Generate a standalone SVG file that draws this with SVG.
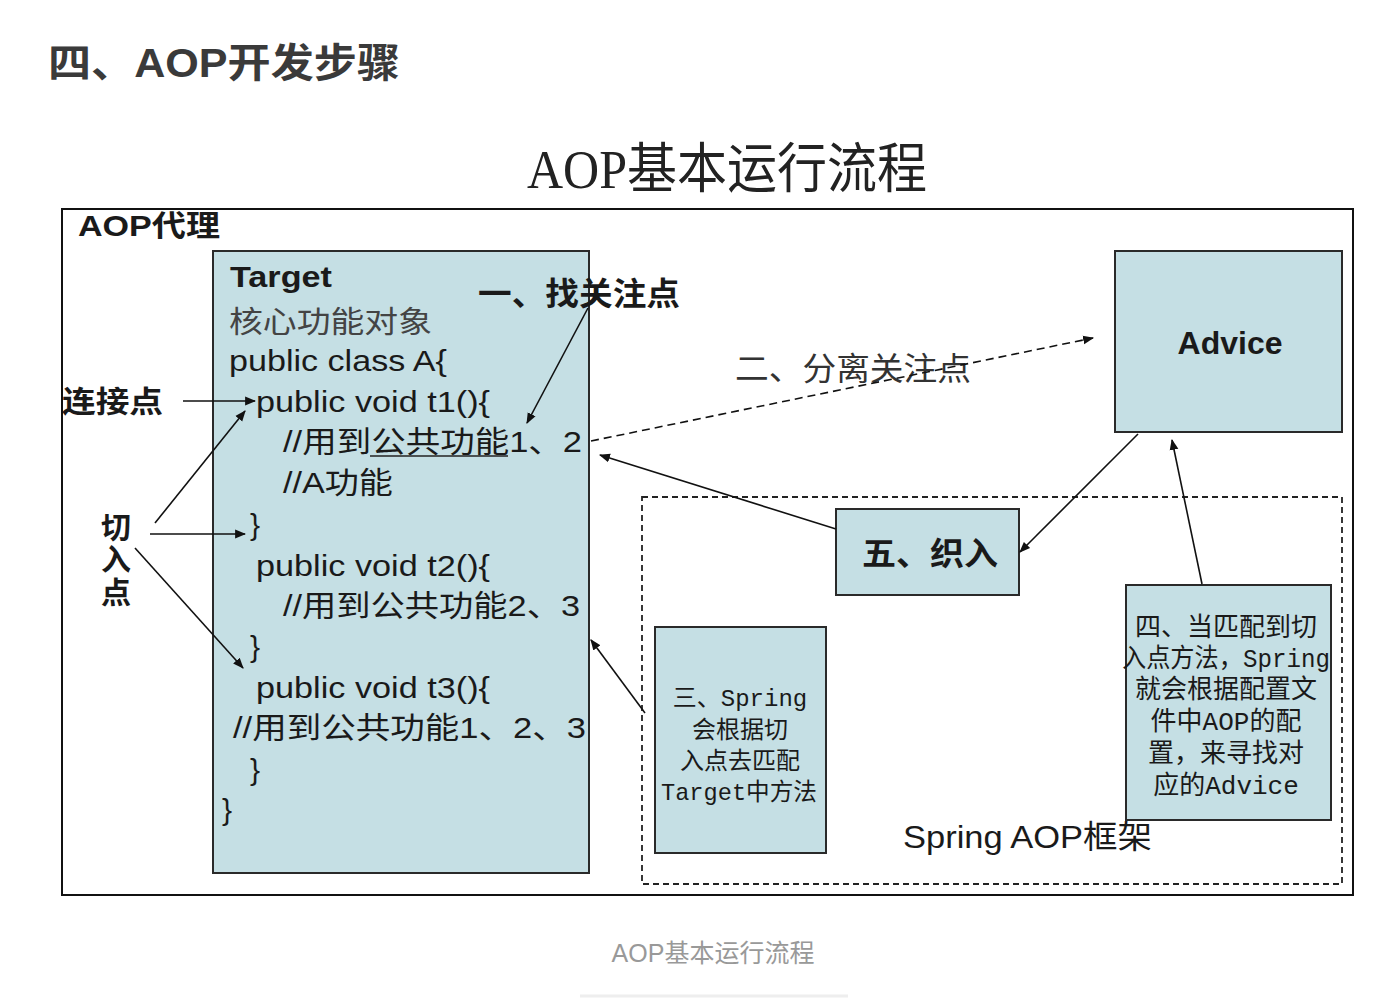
<svg xmlns="http://www.w3.org/2000/svg" width="1396" height="998" viewBox="0 0 1396 998">
<defs>
<marker id="ah" viewBox="0 0 10 10" refX="9" refY="5" markerWidth="11" markerHeight="11" markerUnits="userSpaceOnUse" orient="auto">
<path d="M0,1 L10,5 L0,9 z" fill="#111"/>
</marker>
<style>
.sans{font-family:"Liberation Sans","Noto Sans CJK SC",sans-serif;fill:#1a1a1a}
.mono{font-family:"Liberation Mono","Noto Sans CJK SC",monospace;fill:#1a1a1a}
.box{fill:#c5dfe4;stroke:#2a2a2a;stroke-width:2}
.ln{stroke:#111;stroke-width:1.6;fill:none}
.code{font-size:30px}
</style>
</defs>
<rect width="1396" height="998" fill="#fff"/>
<text x="48" y="77" class="sans" font-size="40" font-weight="bold" style="fill:#3a3a3a" textLength="352" lengthAdjust="spacingAndGlyphs">四、AOP开发步骤</text>
<text x="527" y="188" font-family="Liberation Serif,Noto Sans CJK SC,serif" font-size="54" fill="#222" textLength="400" lengthAdjust="spacingAndGlyphs">AOP基本运行流程</text>

<g id="proxy">
<rect x="62" y="209" width="1291" height="686" fill="none" stroke="#111" stroke-width="2"/>
<text x="78" y="236" class="sans" font-size="30" font-weight="bold" textLength="142" lengthAdjust="spacingAndGlyphs">AOP代理</text>
</g>

<g id="target">
<rect class="box" x="213" y="251" width="376" height="622"/>
<text x="230" y="287" class="sans" font-size="30" font-weight="bold" textLength="102" lengthAdjust="spacingAndGlyphs">Target</text>
<text x="229" y="332" class="sans code" style="fill:#444" textLength="203" lengthAdjust="spacingAndGlyphs">核心功能对象</text>
<text x="229" y="371" class="sans code" textLength="218" lengthAdjust="spacingAndGlyphs">public class A{</text>
<text x="256" y="412" class="sans code" textLength="234" lengthAdjust="spacingAndGlyphs">public void t1(){</text>
<text x="283" y="452" class="sans code" textLength="299" lengthAdjust="spacingAndGlyphs">//用到公共功能1、2</text>
<line x1="370" y1="456" x2="508" y2="456" stroke="#222" stroke-width="1.5"/>
<text x="283" y="493" class="sans code" textLength="110" lengthAdjust="spacingAndGlyphs">//A功能</text>
<text x="250" y="535" class="sans code">}</text>
<text x="256" y="576" class="sans code" textLength="234" lengthAdjust="spacingAndGlyphs">public void t2(){</text>
<text x="283" y="616" class="sans code" textLength="297" lengthAdjust="spacingAndGlyphs">//用到公共功能2、3</text>
<text x="250" y="657" class="sans code">}</text>
<text x="256" y="698" class="sans code" textLength="234" lengthAdjust="spacingAndGlyphs">public void t3(){</text>
<text x="233" y="738" class="sans code" textLength="353" lengthAdjust="spacingAndGlyphs">//用到公共功能1、2、3</text>
<text x="250" y="780" class="sans code">}</text>
<text x="222" y="820" class="sans code">}</text>
</g>

<g id="joinpoint">
<text x="62" y="412" class="sans" font-size="30" font-weight="bold" textLength="101" lengthAdjust="spacingAndGlyphs">连接点</text>
</g>
<g id="pointcut">
<text x="116" y="538" class="sans" font-size="30" font-weight="bold" text-anchor="middle">切</text>
<text x="116" y="570" class="sans" font-size="30" font-weight="bold" text-anchor="middle">入</text>
<text x="116" y="603" class="sans" font-size="30" font-weight="bold" text-anchor="middle">点</text>
</g>
<g id="step1">
<text x="478" y="305" class="sans" font-size="32" font-weight="bold" textLength="202" lengthAdjust="spacingAndGlyphs">一、找关注点</text>
</g>
<g id="step2">
<text x="735" y="380" class="sans" font-size="32" style="fill:#333" textLength="236" lengthAdjust="spacingAndGlyphs">二、分离关注点</text>
</g>

<g id="advice">
<rect class="box" x="1115" y="251" width="227" height="181"/>
<text x="1230" y="354" class="sans" font-size="32" font-weight="bold" text-anchor="middle">Advice</text>
</g>

<g id="springframe">
<rect x="642" y="497" width="700" height="387" fill="none" stroke="#222" stroke-width="1.8" stroke-dasharray="6,4"/>
<text x="903" y="848" class="sans" font-size="32" textLength="249" lengthAdjust="spacingAndGlyphs">Spring AOP框架</text>
</g>

<g id="weave">
<rect class="box" x="836" y="509" width="183" height="86"/>
<text x="862" y="565" class="sans" font-size="32" font-weight="bold" textLength="136" lengthAdjust="spacingAndGlyphs">五、织入</text>
</g>

<g id="step3">
<rect class="box" x="655" y="627" width="171" height="226"/>
<text x="740" y="706" class="mono" font-size="24" text-anchor="middle">三、Spring</text>
<text x="740" y="738" class="mono" font-size="24" text-anchor="middle">会根据切</text>
<text x="740" y="769" class="mono" font-size="24" text-anchor="middle">入点去匹配</text>
<text x="739" y="800" class="mono" font-size="24" text-anchor="middle" textLength="156" lengthAdjust="spacingAndGlyphs">Target中方法</text>
</g>

<g id="step4">
<rect class="box" x="1126" y="585" width="205" height="235"/>
<text x="1226" y="636" class="mono" font-size="26" text-anchor="middle">四、当匹配到切</text>
<text x="1226" y="667" class="mono" font-size="26" text-anchor="middle" textLength="208" lengthAdjust="spacingAndGlyphs">入点方法，Spring</text>
<text x="1226" y="698" class="mono" font-size="26" text-anchor="middle">就会根据配置文</text>
<text x="1226" y="730" class="mono" font-size="26" text-anchor="middle">件中AOP的配</text>
<text x="1226" y="762" class="mono" font-size="26" text-anchor="middle">置，来寻找对</text>
<text x="1226" y="794" class="mono" font-size="26" text-anchor="middle">应的Advice</text>
</g>

<g id="connectors">
<line class="ln" x1="183" y1="401" x2="255" y2="401" marker-end="url(#ah)"/>
<line class="ln" x1="588" y1="308" x2="527" y2="423" marker-end="url(#ah)"/>
<line class="ln" x1="155" y1="523" x2="245" y2="411" marker-end="url(#ah)"/>
<line class="ln" x1="150" y1="534" x2="245" y2="534" marker-end="url(#ah)"/>
<line class="ln" x1="135" y1="548" x2="243" y2="668" marker-end="url(#ah)"/>
<line class="ln" x1="591" y1="441" x2="1093" y2="338" stroke-dasharray="8,5" marker-end="url(#ah)"/>
<line class="ln" x1="836" y1="529" x2="600" y2="455" marker-end="url(#ah)"/>
<line class="ln" x1="1138" y1="434" x2="1020" y2="552" marker-end="url(#ah)"/>
<line class="ln" x1="1202" y1="584" x2="1172" y2="440" marker-end="url(#ah)"/>
<line class="ln" x1="645" y1="713" x2="591" y2="640" marker-end="url(#ah)"/>
</g>

<text x="713" y="962" class="sans" font-size="25" text-anchor="middle" style="fill:#999">AOP基本运行流程</text>
<line x1="580" y1="996" x2="848" y2="996" stroke="#eee" stroke-width="3"/>
</svg>
